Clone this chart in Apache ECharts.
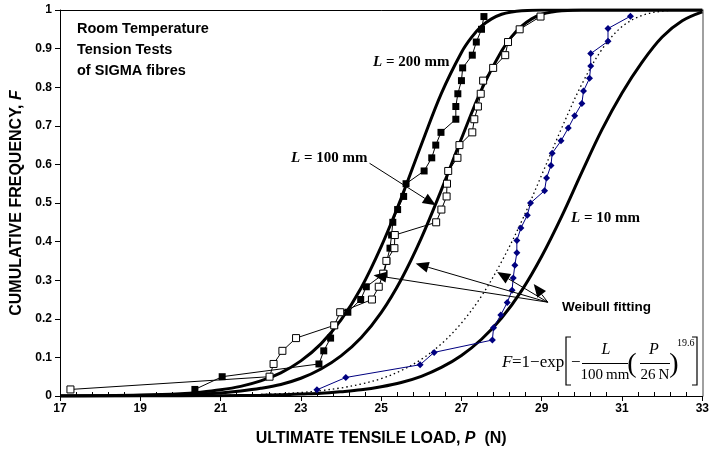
<!DOCTYPE html>
<html><head><meta charset="utf-8">
<script src="https://cdn.jsdelivr.net/npm/echarts@6/dist/echarts.min.js"></script>
<style>html,body{margin:0;padding:0;background:#fff}#c{width:712px;height:457px}</style>
</head><body><div id="c"></div><script>
// ---- tick labels ----
const xTicks = [17, 19, 21, 23, 25, 27, 29, 31, 33];
const yTicks = [0, 0.1, 0.2, 0.3, 0.4, 0.5, 0.6, 0.7, 0.8, 0.9, 1];

// ---- measured data: L = 200 mm (filled squares) ----
const l200Load = [20.36, 21.04, 23.45, 23.57, 23.74, 23.84, 24.17, 24.49, 24.63, 25.07, 25.14, 25.22, 25.26, 25.29, 25.41, 25.56, 25.62, 26.07, 26.26, 26.36, 26.49, 26.86, 26.86, 26.91, 27.00, 27.03, 27.27, 27.37, 27.50, 27.56];
const l200Freq = [0.017, 0.050, 0.083, 0.117, 0.150, 0.183, 0.217, 0.250, 0.283, 0.317, 0.350, 0.383, 0.417, 0.450, 0.483, 0.517, 0.550, 0.583, 0.617, 0.650, 0.683, 0.717, 0.750, 0.783, 0.817, 0.850, 0.883, 0.917, 0.950, 0.983];
// ---- measured data: L = 100 mm (open squares) ----
const l100Load = [17.26, 22.22, 22.32, 22.54, 22.88, 23.83, 23.98, 24.77, 24.94, 25.05, 25.13, 25.33, 25.34, 26.37, 26.50, 26.63, 26.64, 26.67, 26.90, 26.95, 27.27, 27.32, 27.41, 27.48, 27.54, 27.79, 28.09, 28.16, 28.45, 28.97];
const l100Freq = [0.017, 0.050, 0.083, 0.117, 0.150, 0.183, 0.217, 0.250, 0.283, 0.317, 0.350, 0.383, 0.417, 0.450, 0.483, 0.517, 0.550, 0.583, 0.617, 0.650, 0.683, 0.717, 0.750, 0.783, 0.817, 0.850, 0.883, 0.917, 0.950, 0.983];
// ---- measured data: L = 10 mm (blue) ----
const l10Load = [23.40, 24.12, 25.97, 26.32, 27.77, 27.80, 27.98, 28.14, 28.26, 28.29, 28.33, 28.38, 28.38, 28.48, 28.64, 28.72, 29.07, 29.12, 29.23, 29.26, 29.48, 29.66, 29.82, 30.00, 30.04, 30.19, 30.22, 30.22, 30.65, 30.65, 31.21];
const l10Freq = [0.016, 0.048, 0.081, 0.113, 0.145, 0.177, 0.210, 0.242, 0.274, 0.306, 0.339, 0.371, 0.403, 0.435, 0.468, 0.500, 0.532, 0.565, 0.597, 0.629, 0.661, 0.694, 0.726, 0.758, 0.790, 0.823, 0.855, 0.887, 0.919, 0.952, 0.984];

// ---- fitted curves ----
const fit200Load = [17, 18, 19, 20, 20.5, 21, 21.5, 22, 22.5, 23, 23.5, 24, 24.5, 25, 25.5, 26, 26.5, 27, 27.25, 27.5, 27.75, 28, 28.25, 28.5, 29, 30, 31, 32, 33];
const fit200Freq = [0.0003, 0.0008, 0.0023, 0.006, 0.010, 0.016, 0.025, 0.039, 0.060, 0.091, 0.135, 0.197, 0.280, 0.387, 0.513, 0.651, 0.784, 0.890, 0.929, 0.958, 0.977, 0.989, 0.995, 0.998, 1.000, 1.000, 1.000, 1.000, 1.000];
const fit100Load = [17, 18, 19, 20, 20.5, 21, 21.5, 22, 22.5, 23, 23.5, 24, 24.5, 25, 25.5, 26, 26.5, 27, 27.5, 28, 28.25, 28.5, 28.75, 29, 29.25, 29.5, 30, 31, 32, 33];
const fit100Freq = [0.0001, 0.0004, 0.0011, 0.003, 0.005, 0.008, 0.013, 0.020, 0.030, 0.046, 0.070, 0.104, 0.151, 0.216, 0.302, 0.409, 0.534, 0.667, 0.794, 0.894, 0.931, 0.958, 0.977, 0.989, 0.995, 0.998, 1.000, 1.000, 1.000, 1.000];
const fit10Load = [17, 18, 19, 20, 21, 22, 22.5, 23, 23.5, 24, 24.5, 25, 25.5, 26, 26.5, 27, 27.5, 28, 28.5, 29, 29.5, 30, 30.5, 31, 31.5, 32, 32.5, 33];
const fit10Freq = [0.0000, 0.0001, 0.0001, 0.0003, 0.0008, 0.002, 0.003, 0.005, 0.007, 0.011, 0.016, 0.024, 0.035, 0.051, 0.074, 0.105, 0.147, 0.202, 0.273, 0.362, 0.466, 0.580, 0.690, 0.785, 0.865, 0.930, 0.972, 0.995];
const dotLoad = [21, 21.5, 22, 22.5, 23, 23.5, 24, 24.5, 25, 25.5, 26, 26.5, 27, 27.5, 28, 28.5, 29, 29.5, 30, 30.5, 31, 31.5, 32, 32.5, 33];
const dotFreq = [0.0015, 0.0024, 0.004, 0.006, 0.009, 0.014, 0.021, 0.031, 0.045, 0.066, 0.095, 0.135, 0.189, 0.259, 0.348, 0.453, 0.573, 0.695, 0.808, 0.898, 0.957, 0.986, 0.997, 1.000, 1.000];

const zip = (xs, ys) => xs.map((x, i) => [x, ys[i]]);
const SANS = 'Liberation Sans, Arial, sans-serif';
const SERIF = 'Liberation Serif, Times New Roman, serif';

const chart = echarts.init(document.getElementById('c'), null, {renderer: 'canvas'});

const xMin = xTicks[0], xMax = xTicks[xTicks.length - 1], xInt = xTicks[1] - xTicks[0];
const yMin = yTicks[0], yMax = yTicks[yTicks.length - 1];

const fitLine = (xs, ys) => ({
  type: 'line', data: zip(xs, ys), smooth: 0.35, symbol: 'none',
  lineStyle: {color: '#000', width: 3}, z: 2, silent: true
});

chart.setOption({
  animation: false,
  backgroundColor: '#fff',
  grid: {left: 60, right: 5, top: 10, bottom: 61, containLabel: false},
  xAxis: [
    {type: 'value', position: 'bottom', min: xMin, max: xMax, interval: xInt,
     axisLine: {onZero: false, lineStyle: {color: '#000', width: 1}},
     axisTick: {show: true, length: 5, lineStyle: {color: '#000'}},
     axisLabel: {color: '#000', fontWeight: 'bold', fontSize: 12, fontFamily: SANS, margin: 7},
     splitLine: {show: false},
     name: 'ULTIMATE TENSILE LOAD, {i|P}  (N)', nameLocation: 'middle', nameGap: 35,
     nameTextStyle: {color: '#000', fontWeight: 'bold', fontSize: 16, fontFamily: SANS,
       rich: {i: {fontStyle: 'italic', fontWeight: 'bold', fontSize: 16, fontFamily: SANS, color: '#000'}}}},
    {type: 'value', position: 'bottom', min: xMin, max: xMax, interval: xInt,
     axisLine: {show: false, onZero: false}, axisTick: {show: false, inside: true},
     minorTick: {show: true, splitNumber: 5, length: 4, lineStyle: {color: '#000'}},
     axisLabel: {show: false}, splitLine: {show: false}},
    {type: 'value', position: 'top', min: xMin, max: xMax, interval: xInt,
     axisLine: {onZero: false, lineStyle: {color: '#000', width: 1}}, axisTick: {show: false},
     axisLabel: {show: false}, splitLine: {show: false}}
  ],
  yAxis: [
    {type: 'value', position: 'left', min: yMin, max: yMax, interval: 0.1,
     axisLine: {onZero: false, lineStyle: {color: '#000', width: 1}},
     axisTick: {show: true, length: 5, lineStyle: {color: '#000'}},
     axisLabel: {color: '#000', fontWeight: 'bold', fontSize: 12, fontFamily: SANS, margin: 8,
       formatter: v => String(Math.round(v * 10) / 10)},
     splitLine: {show: false},
     name: 'CUMULATIVE FREQUENCY, {i|F}', nameLocation: 'middle', nameGap: 27,
     nameTextStyle: {color: '#000', fontWeight: 'bold', fontSize: 16, fontFamily: SANS,
       rich: {i: {fontStyle: 'italic', fontWeight: 'bold', fontSize: 16, fontFamily: SANS, color: '#000'}}}},
    {type: 'value', position: 'right', min: yMin, max: yMax, interval: 0.1,
     axisLine: {onZero: false, lineStyle: {color: '#808080', width: 1.5}}, axisTick: {show: false},
     axisLabel: {show: false}, splitLine: {show: false}}
  ],
  series: [
    fitLine(fit200Load, fit200Freq),
    fitLine(fit100Load, fit100Freq),
    fitLine(fit10Load, fit10Freq),
    {type: 'line', data: zip(dotLoad, dotFreq), smooth: 0.35, symbol: 'none',
     lineStyle: {color: '#000', width: 1.3, type: [1.5, 3]}, z: 3, silent: true},
    {type: 'line', data: zip(l200Load, l200Freq), symbol: 'rect', symbolSize: 7,
     itemStyle: {color: '#000'}, lineStyle: {color: '#000', width: 1}, z: 4, silent: true},
    {type: 'line', data: zip(l100Load, l100Freq), symbol: 'rect', symbolSize: 7,
     itemStyle: {color: '#fff', borderColor: '#000', borderWidth: 1}, lineStyle: {color: '#000', width: 1}, z: 4, silent: true},
    {type: 'line', data: zip(l10Load, l10Freq), symbol: 'diamond', symbolSize: 7,
     itemStyle: {color: '#000080'}, lineStyle: {color: '#000080', width: 1}, z: 5, silent: true}
  ]
});

// ---- annotations ----
const P = (x, y) => chart.convertToPixel({xAxisIndex: 0, yAxisIndex: 0}, [x, y]);
function arrow(from, tip) {
  const a = P(from[0], from[1]), b = P(tip[0], tip[1]);
  const dx = b[0] - a[0], dy = b[1] - a[1], len = Math.hypot(dx, dy);
  const ux = dx / len, uy = dy / len, L = 13, W = 5.5;
  const bx = b[0] - ux * L, by = b[1] - uy * L;
  return [
    {type: 'polyline', z: 100, shape: {points: [a, [bx, by]]}, style: {stroke: '#000', lineWidth: 1, fill: null}},
    {type: 'polygon', z: 100, shape: {points: [b, [bx - uy * W, by + ux * W], [bx + uy * W, by - ux * W]]}, style: {fill: '#000'}}
  ];
}
function txt(text, x, y, size, opts) {
  opts = opts || {};
  const style = {
    text: text, fontSize: size, fontFamily: opts.family || SANS, fontWeight: opts.weight || 'normal',
    fontStyle: opts.style || 'normal', fill: '#000',
    align: opts.align || 'left', verticalAlign: 'middle', textAlign: opts.align || 'left', textVerticalAlign: 'middle'
  };
  if (opts.rich) style.rich = opts.rich;
  return {type: 'text', x: x, y: y, z: 100, style: style};
}
const italB = {i: {fontStyle: 'italic', fontWeight: 'bold', fontSize: 15, fontFamily: SERIF, fill: '#000'}};
const hub = [29.15, 0.243];
let g = [];
g.push(txt('Room Temperature', 77, 29, 14.5, {weight: 'bold'}));
g.push(txt('Tension Tests', 77, 50, 14.5, {weight: 'bold'}));
g.push(txt('of SIGMA fibres', 77, 71, 14.5, {weight: 'bold'}));
g.push(txt('{i|L} = 200 mm', 373, 62, 15, {family: SERIF, weight: 'bold', rich: italB}));
g.push(txt('{i|L} = 100 mm', 291, 158, 15, {family: SERIF, weight: 'bold', rich: italB}));
g.push(txt('{i|L} = 10 mm', 571, 218, 15, {family: SERIF, weight: 'bold', rich: italB}));
g.push(txt('Weibull fitting', 562, 307, 13.5, {weight: 'bold'}));
g = g.concat(arrow([24.71, 0.603], [26.36, 0.494]));
g = g.concat(arrow(hub, [24.81, 0.313]));
g = g.concat(arrow(hub, [25.86, 0.343]));
g = g.concat(arrow(hub, [27.89, 0.321]));
g = g.concat(arrow(hub, [28.80, 0.290]));
// formula
g.push(txt('F', 502, 363, 17, {family: SERIF, style: 'italic'}));
g.push(txt('=1\u2212exp', 512, 363, 17, {family: SERIF}));
g.push({type: 'polyline', z: 100, shape: {points: [[571, 337], [566, 337], [566, 385], [571, 385]]}, style: {stroke: '#000', lineWidth: 1.2, fill: null}});
g.push(txt('\u2212', 571, 363, 17, {family: SERIF}));
g.push(txt('L', 606, 350, 16, {family: SERIF, style: 'italic', align: 'center'}));
g.push({type: 'line', z: 100, shape: {x1: 582, y1: 363.5, x2: 628, y2: 363.5}, style: {stroke: '#000', lineWidth: 1}});
g.push(txt('100\u2009mm', 605, 375, 15, {family: SERIF, align: 'center'}));
g.push(txt('(', 632, 365, 28, {family: SERIF, align: 'center'}));
g.push(txt('P', 654, 350, 16, {family: SERIF, style: 'italic', align: 'center'}));
g.push({type: 'line', z: 100, shape: {x1: 640, y1: 363.5, x2: 670, y2: 363.5}, style: {stroke: '#000', lineWidth: 1}});
g.push(txt('26\u2009N', 655, 375, 15, {family: SERIF, align: 'center'}));
g.push(txt(')', 674, 365, 28, {family: SERIF, align: 'center'}));
g.push(txt('19.6', 677, 343, 10, {family: SERIF}));
g.push({type: 'polyline', z: 100, shape: {points: [[692, 337], [697, 337], [697, 385], [692, 385]]}, style: {stroke: '#000', lineWidth: 1.2, fill: null}});

chart.setOption({graphic: {elements: g}});
</script></body></html>
